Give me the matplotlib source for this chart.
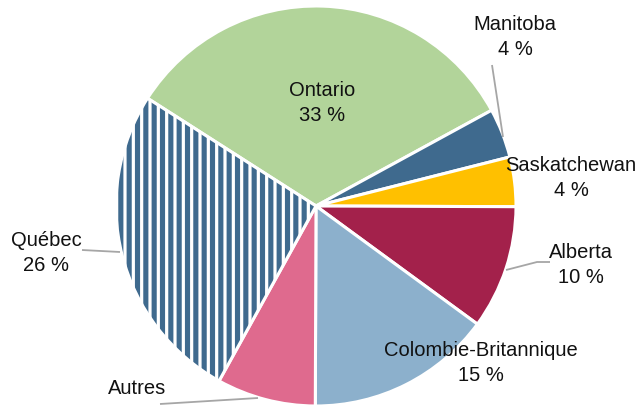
import matplotlib
matplotlib.use('Agg')
import matplotlib.pyplot as plt
from matplotlib.patches import Wedge

# ---- data ----
regions = ["Ontario", "Manitoba", "Saskatchewan", "Alberta",
           "Colombie-Britannique", "Autres", "Québec"]
shares = [33, 4, 4, 10, 15, 8, 26]
colors = ["#b2d49a", "#3f6a8e", "#ffc000", "#a3214b",
          "#8cb0cc", "#df6a8e", "#ffffff"]
hatch_color = "#3f6a8e"

plt.rcParams['hatch.linewidth'] = 3.7
plt.rcParams['font.family'] = ['Liberation Sans', 'DejaVu Sans']

W, H = 638, 405
fig = plt.figure(figsize=(W / 100, H / 100), dpi=100)
ax = fig.add_axes([0, 0, 1, 1])

cx, cy, R = 316, H - 206, 200
wedges, _ = ax.pie(shares, colors=colors, startangle=147.4, counterclock=False,
                   center=(cx, cy), radius=R,
                   wedgeprops=dict(edgecolor='white', linewidth=2.2))
ax.set_xlim(0, W)
ax.set_ylim(0, H)
ax.set_aspect('equal')
ax.axis('off')

# hatched Québec wedge
q = wedges[6]
q.set_facecolor('white')
q.set_edgecolor(hatch_color)
q.set_linewidth(0)
q.set_hatch('||')
border = Wedge((cx, cy), R, q.theta1, q.theta2, fill=False,
               edgecolor='white', linewidth=2.2)
ax.add_patch(border)

# labels (layout positions in pixel coords from top-left)
label_pos = {
    "Ontario": (322, 103),
    "Manitoba": (515, 37),
    "Saskatchewan": (571, 178),
    "Alberta": (581, 265),
    "Colombie-Britannique": (481, 363),
    "Autres": (137, 389),
    "Québec": (46, 253),
}
for name, val in zip(regions, shares):
    x, y = label_pos[name]
    txt = name if name == "Autres" else f"{name}\n{val} %"
    ax.text(x, H - y, txt, ha='center', va='center', fontsize=14.5,
            color='#111111', linespacing=1.4)

# leader lines
leaders = [
    [(82, 250), (120, 252)],
    [(492, 65), (503, 137)],
    [(550, 262), (537, 262), (506, 270)],
    [(160, 404), (258, 398)],
]
for pts in leaders:
    xs = [p[0] for p in pts]
    ys = [H - p[1] for p in pts]
    ax.plot(xs, ys, color='#a6a6a6', linewidth=1.3, solid_capstyle='butt')

fig.savefig('out.png', dpi=100)
